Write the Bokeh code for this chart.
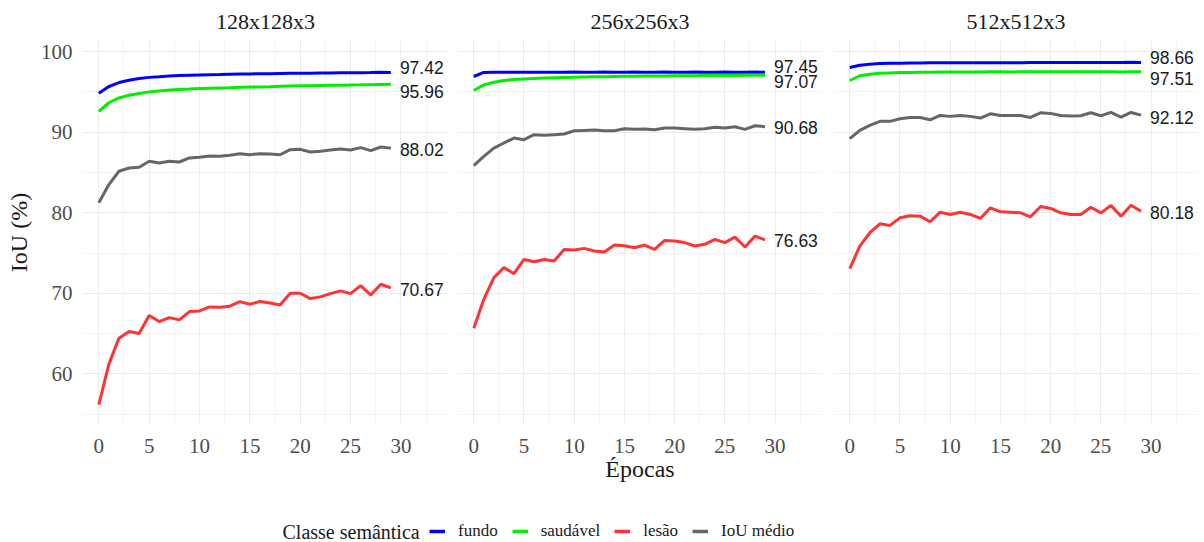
from bokeh.plotting import figure
from bokeh.models import SingleIntervalTicker, Legend, LegendItem, Label, Range1d, ColumnDataSource
from bokeh.layouts import row, column
from bokeh.embed import file_html
from bokeh.resources import INLINE
from bokeh.core.properties import value

epochs = list(range(30))
panels = ["128x128x3", "256x256x3", "512x512x3"]
classes = ["fundo", "saudável", "lesão", "IoU médio"]
colors = ["#0000FF", "#00EE00", "#FF3333", "#666666"]

fundo_128 = [94.84, 95.67, 96.16, 96.45, 96.65, 96.80, 96.88, 96.97, 97.03, 97.07, 97.11, 97.14, 97.16, 97.19, 97.21,
             97.23, 97.25, 97.26, 97.28, 97.30, 97.31, 97.30, 97.34, 97.33, 97.36, 97.37, 97.38, 97.40, 97.43, 97.42]
saudavel_128 = [92.57, 93.65, 94.25, 94.58, 94.80, 95.00, 95.12, 95.22, 95.29, 95.35, 95.42, 95.46, 95.49, 95.52, 95.56,
                95.60, 95.62, 95.65, 95.69, 95.72, 95.75, 95.75, 95.78, 95.81, 95.83, 95.85, 95.87, 95.90, 95.93, 95.96]
lesao_128 = [56.19, 61.22, 64.44, 65.26, 65.01, 67.24, 66.50, 66.99, 66.71, 67.74, 67.82, 68.32, 68.28, 68.40, 68.97,
             68.65, 69.00, 68.81, 68.56, 70.01, 70.01, 69.35, 69.56, 69.97, 70.30, 69.97, 70.96, 69.80, 71.13, 70.67]
media_128 = [81.23, 83.50, 85.15, 85.56, 85.64, 86.39, 86.18, 86.39, 86.30, 86.80, 86.88, 87.05, 87.00, 87.13, 87.33,
             87.20, 87.33, 87.30, 87.20, 87.83, 87.87, 87.54, 87.62, 87.79, 87.91, 87.79, 88.08, 87.71, 88.16, 88.02]

fundo_256 = [96.91, 97.42, 97.44, 97.44, 97.45, 97.45, 97.45, 97.45, 97.45, 97.45, 97.46, 97.45, 97.45, 97.46, 97.45,
             97.45, 97.46, 97.45, 97.45, 97.46, 97.45, 97.45, 97.46, 97.45, 97.45, 97.46, 97.45, 97.45, 97.46, 97.45]
saudavel_256 = [95.17, 95.87, 96.20, 96.41, 96.53, 96.60, 96.66, 96.71, 96.75, 96.79, 96.83, 96.85, 96.87, 96.89, 96.91,
                96.93, 96.94, 96.96, 96.97, 96.98, 96.99, 97.00, 97.01, 97.02, 97.03, 97.04, 97.04, 97.05, 97.06, 97.07]
lesao_256 = [65.68, 69.26, 71.95, 73.19, 72.44, 74.21, 73.93, 74.21, 74.01, 75.45, 75.37, 75.58, 75.25, 75.12, 75.99,
             75.90, 75.65, 75.99, 75.45, 76.57, 76.50, 76.30, 75.88, 76.08, 76.70, 76.29, 76.98, 75.75, 77.10, 76.63]
media_256 = [85.85, 87.00, 88.03, 88.66, 89.27, 89.07, 89.69, 89.61, 89.69, 89.77, 90.18, 90.22, 90.26, 90.18, 90.18,
             90.43, 90.35, 90.39, 90.30, 90.51, 90.51, 90.43, 90.35, 90.43, 90.60, 90.51, 90.68, 90.35, 90.80, 90.68]

fundo_512 = [98.02, 98.30, 98.43, 98.51, 98.54, 98.56, 98.58, 98.59, 98.60, 98.60, 98.61, 98.61, 98.62, 98.62, 98.62,
             98.63, 98.63, 98.63, 98.64, 98.64, 98.64, 98.64, 98.65, 98.65, 98.65, 98.65, 98.66, 98.65, 98.67, 98.66]
saudavel_512 = [96.41, 97.00, 97.20, 97.30, 97.35, 97.40, 97.42, 97.44, 97.45, 97.46, 97.47, 97.46, 97.48, 97.48, 97.49,
                97.49, 97.48, 97.50, 97.50, 97.49, 97.50, 97.50, 97.51, 97.50, 97.51, 97.51, 97.50, 97.47, 97.50, 97.51]
lesao_512 = [73.06, 75.87, 77.52, 78.63, 78.43, 79.37, 79.62, 79.58, 78.88, 80.07, 79.79, 80.07, 79.79, 79.29, 80.61,
             80.11, 80.07, 79.99, 79.50, 80.78, 80.53, 79.99, 79.79, 79.79, 80.69, 79.99, 80.90, 79.58, 80.94, 80.18]
media_512 = [89.20, 90.22, 90.84, 91.34, 91.34, 91.67, 91.83, 91.83, 91.54, 92.08, 91.96, 92.08, 91.96, 91.75, 92.28,
             92.08, 92.08, 92.08, 91.83, 92.41, 92.33, 92.08, 92.00, 92.04, 92.41, 92.04, 92.45, 91.87, 92.45, 92.12]

series_by_panel = [
    [fundo_128, saudavel_128, lesao_128, media_128],
    [fundo_256, saudavel_256, lesao_256, media_256],
    [fundo_512, saudavel_512, lesao_512, media_512],
]
# vertical nudges (px) of end labels, to avoid overlaps
label_nudges = [[-5, 7, 2, 1], [-6, 6, 1, 1], [-5, 7, 1, 2]]

X0, X1 = -1.62, 34.72
Y0, Y1 = 53.6, 101.5
SERIF = "Liberation Serif"
SANS = "Liberation Sans"

def make_panel(i, width, bl, br, show_y, xlabel):
    p = figure(width=width, height=490, output_backend="svg", toolbar_location=None,
               x_range=Range1d(X0, X1), y_range=Range1d(Y0, Y1),
               min_border_left=bl, min_border_right=br, min_border_top=38, min_border_bottom=65)
    p.outline_line_color = None
    p.background_fill_color = "white"
    p.title.text = panels[i]
    p.title.align = "center"
    p.title.text_font = SERIF
    p.title.text_font_size = "22px"
    p.title.text_font_style = "normal"
    p.title.text_color = "#1a1a1a"
    p.title.standoff = 12

    xt = SingleIntervalTicker(interval=5, num_minor_ticks=2)
    yt = SingleIntervalTicker(interval=10, num_minor_ticks=2)
    p.xaxis.ticker = xt
    p.xgrid.ticker = xt
    p.yaxis.ticker = yt
    p.ygrid.ticker = yt
    for ax in (p.xaxis, p.yaxis):
        ax.axis_line_color = None
        ax.major_tick_line_color = None
        ax.minor_tick_line_color = None
        ax.major_tick_out = 0
        ax.major_tick_in = 0
        ax.minor_tick_out = 0
        ax.minor_tick_in = 0
        ax.major_label_text_font = SERIF
        ax.major_label_text_font_size = "21px"
        ax.major_label_text_color = "#4d4d4d"
        ax.axis_label_text_font = SERIF
        ax.axis_label_text_font_size = "24px"
        ax.axis_label_text_font_style = "normal"
        ax.axis_label_text_color = "#1a1a1a"
    p.xaxis.major_label_standoff = 13
    p.yaxis.major_label_standoff = 10
    if xlabel:
        p.xaxis.axis_label = xlabel
        p.xaxis.axis_label_standoff = 0
    if show_y:
        p.yaxis.axis_label = "IoU (%)"
        p.yaxis.axis_label_standoff = 6
    else:
        p.yaxis.visible = False
    for g in (p.xgrid, p.ygrid):
        g.grid_line_color = "#EBEBEB"
        g.grid_line_width = 1
        g.minor_grid_line_color = "#F3F3F3"
        g.minor_grid_line_width = 1

    series = series_by_panel[i]
    for k in range(4):
        p.line(epochs, series[k], line_color=colors[k], line_width=3)
    src = ColumnDataSource(dict(
        x=[epochs[-1]] * 4,
        y=[s[-1] for s in series],
        text=["%.2f" % s[-1] for s in series],
        yo=label_nudges[i],
    ))
    p.text(x="x", y="y", text="text", y_offset="yo", x_offset=9, source=src,
           text_font=value(SANS), text_font_size="17.5px", text_baseline="middle",
           text_align="left", text_color="#1a1a1a")
    return p

p1 = make_panel(0, 452, 82, 4, True, None)
p2 = make_panel(1, 374, 5, 4, False, "Épocas")
p3 = make_panel(2, 378, 7, 6, False, None)

# legend strip: the series are drawn again here but fall outside this strip's ranges,
# so only their legend glyphs show
pleg = figure(width=1204, height=52, output_backend="svg", toolbar_location=None,
              x_axis_location=None, y_axis_location=None, min_border=0,
              x_range=Range1d(0, 1), y_range=Range1d(0, 1))
pleg.outline_line_color = None
pleg.grid.visible = False
rends = [pleg.line(epochs, series_by_panel[0][k], line_color=colors[k], line_width=3.5)
         for k in range(4)]
legend = Legend(items=[LegendItem(label=classes[k], renderers=[rends[k]]) for k in range(4)],
                orientation="horizontal", location=(429, 1), padding=0, margin=0,
                border_line_color=None, background_fill_alpha=0,
                glyph_width=16, glyph_height=20, label_standoff=13, spacing=14,
                label_text_font=SERIF, label_text_font_size="17px", label_height=20,
                label_text_color="#1a1a1a")
pleg.add_layout(legend)
pleg.add_layout(Label(x=282, y=11, x_units="screen", y_units="screen", text="Classe semântica",
                      text_font=SERIF, text_font_size="20px", text_baseline="middle",
                      text_color="#1a1a1a"))

layout = column(row(p1, p2, p3), pleg)
open("out.html", "w").write(file_html(layout, INLINE))
